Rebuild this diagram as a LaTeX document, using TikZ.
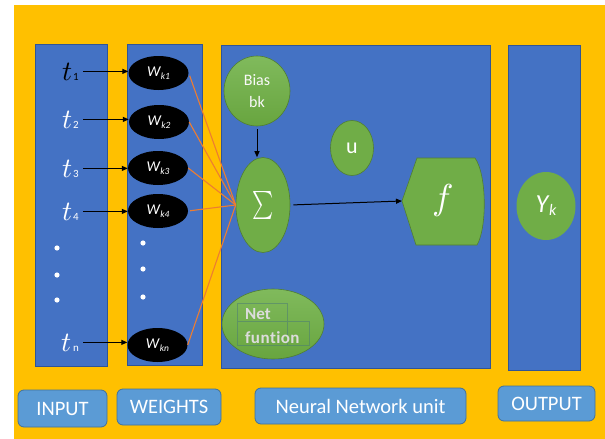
\documentclass[tikz,border=0pt]{standalone}
\usepackage{fontspec}
\usepackage{unicode-math}
\setmainfont{Carlito}
\setmathfont{Latin Modern Math}
\usetikzlibrary{shapes.geometric,arrows.meta}
\definecolor{ybg}{HTML}{FFC000}
\definecolor{cblue}{HTML}{4472C4}
\definecolor{cblueb}{HTML}{2F5597}
\definecolor{cgreen}{HTML}{70AD47}
\definecolor{cgreenb}{HTML}{507E32}
\definecolor{glight}{HTML}{80BA5C}
\definecolor{gdark}{HTML}{68A53F}
\definecolor{labfill}{HTML}{5B9BD5}
\definecolor{labdraw}{HTML}{41719C}
\definecolor{corange}{HTML}{ED7D31}
\definecolor{ntext}{HTML}{DCDCDC}
\begin{document}
\begin{tikzpicture}[x=1pt,y=-1pt,
  col/.style={draw=cblueb, line width=0.8pt, fill=cblue, inner sep=0pt, outer sep=0pt},
  lab/.style={draw=labdraw, line width=0.8pt, fill=labfill, rounded corners=6pt, text=white,
    font=\fontsize{20.5}{24}\selectfont, inner sep=0pt},
  wnode/.style={ellipse, fill=black, minimum width=60pt, minimum height=34pt, inner sep=0pt, text=white},
  gnode/.style={ellipse, fill=cgreen, draw=cgreenb, line width=0.6pt, inner sep=0pt, text=white},
  gshade/.style={ellipse, top color=glight, bottom color=gdark, draw=cgreenb, line width=0.6pt, inner sep=0pt},
  tlab/.style={anchor=base east, inner sep=2pt, text=white},
  arr/.style={-{Triangle[length=6pt,width=5pt]}, line width=1pt, black},
  oline/.style={corange, line width=1.1pt},
  dot/.style={white}
]
\useasboundingbox (0,0) rectangle (605,439);
\fill[ybg] (14,5) rectangle (605,439);

% columns
\node[col, minimum width=72pt, minimum height=322pt] (incol) at (71,205) {};
\node[col, minimum width=75pt, minimum height=321pt] (wcol) at (164.5,204.5) {};
\node[col, minimum width=269pt, minimum height=323pt] (nncol) at (355.5,206.5) {};
\node[col, minimum width=72pt, minimum height=325pt] (outcol) at (544,207.5) {};

% bottom labels
\node[lab, minimum width=89pt, minimum height=37pt] (linput) at (62.5,408.5) {INPUT};
\node[lab, minimum width=104pt, minimum height=36pt] (lweights) at (169,407) {WEIGHTS};
\node[lab, minimum width=211pt, minimum height=36pt] (lnn) at (360.5,406) {Neural Network unit};
\node[lab, minimum width=97pt, minimum height=35pt] (loutput) at (546.5,403.5) {OUTPUT};

% weight ellipses
\newcommand{\wlab}[1]{\fontsize{15}{15}\selectfont\itshape W\kern0.5pt\raisebox{-2.5pt}{\fontsize{9.5}{9.5}\selectfont #1}}
\node[wnode] (w1) at (158.5,73) {\wlab{k1}};
\node[wnode] (w2) at (159,122) {\wlab{k2}};
\node[wnode] (w3) at (158,168) {\wlab{k3}};
\node[wnode] (w4) at (158,211) {\wlab{k4}};
\node[wnode] (wn) at (157.5,345) {\wlab{kn}};

% inputs
\newcommand{\tlabel}[1]{\fontsize{28}{28}\selectfont$t$\kern1pt{\fontsize{11}{11}\selectfont #1}}
\node[tlab, text=black] (t1) at (81,80) {\tlabel{1}};
\node[tlab] (t2) at (81,128) {\tlabel{2}};
\node[tlab] (t3) at (81,177) {\tlabel{3}};
\node[tlab] (t4) at (81,220) {\tlabel{4}};
\node[tlab] (tn) at (81,351) {\tlabel{n}};

\draw[arr, shorten <=2pt] (t1.east) -- (t1.east -| w1.west);
\draw[arr, shorten <=2pt] (t2.east) -- (t2.east -| w2.west);
\draw[arr, shorten <=2pt] (t3.east) -- (t3.east -| w3.west);
\draw[arr, shorten <=2pt] (t4.east) -- (t4.east -| w4.west);
\draw[arr, shorten <=2pt] (tn.east) -- (tn.east -| wn.west);

% dots
\foreach \yy in {248,275,300} \fill[dot] (57,\yy) circle (2.6pt);
\foreach \yy in {243,269,297} \fill[dot] (143,\yy) circle (2.6pt);

% neural network unit
\node[gshade, minimum width=66pt, minimum height=70pt, text=white!95!gray,
  align=center, font=\fontsize{16}{21.5}\selectfont] (bias) at (257,91) {Bias\\bk};
\node[gnode, minimum width=54pt, minimum height=95pt] (sigma) at (263,205)
  {\fontsize{28}{28}\selectfont\raisebox{0pt}{\scalebox{0.72}[1]{$\sum$}}};
\node[gnode, minimum width=43pt, minimum height=55pt, font=\fontsize{22}{22}\selectfont] (u) at (352,148) {u};
\node[gshade, minimum width=102pt, minimum height=70pt] (net) at (273,324) {};
\draw[cblueb!60!cgreen, opacity=0.5, line width=0.5pt]
  (237,303) rectangle (287,321) (237,321) rectangle (309,345) (287,321) -- (287,345);
\node[anchor=base west, inner sep=0pt, text=ntext, font=\bfseries\fontsize{17}{17}\selectfont] (net1) at (245,319) {Net};
\node[anchor=base west, inner sep=0pt, text=ntext, font=\bfseries\fontsize{17}{17}\selectfont] (net2) at (245,343) {f\kern0.4pt u\kern0.4pt n\kern0.4pt t\kern0.4pt i\kern0.4pt o\kern0.4pt n};

% activation shape
\coordinate (fwest) at (402,201);
\filldraw[fill=cgreen, draw=cgreenb, line width=0.6pt]
  (fwest) -- (417,158) -- (475,158) .. controls (487,175) and (487,228) .. (477,245) -- (416,245) -- cycle;
\node[text=white, inner sep=0pt, font=\fontsize{36}{36}\selectfont] (f) at (443,200) {$f$};

% output
\node[gnode, draw=none, minimum width=59pt, minimum height=68pt] (yk) at (546,206)
  {\fontsize{26}{26}\selectfont\itshape Y\kern1pt\raisebox{-3pt}{\fontsize{16}{16}\selectfont k}};

% connectors
\draw[arr, shorten <=3pt] (bias.south) -- (bias.south |- sigma.north);
\draw[arr, shorten <=3pt] (sigma.east) -- (fwest);
\draw[oline, shorten <=3pt] (w1.east) -- (sigma.west);
\draw[oline] (w2.east) -- (sigma.west);
\draw[oline] (w3.east) -- (sigma.west);
\draw[oline, shorten <=2pt] (w4.east) -- (sigma.west);
\draw[oline] (wn.east) -- (sigma.west);
\end{tikzpicture}
\end{document}
